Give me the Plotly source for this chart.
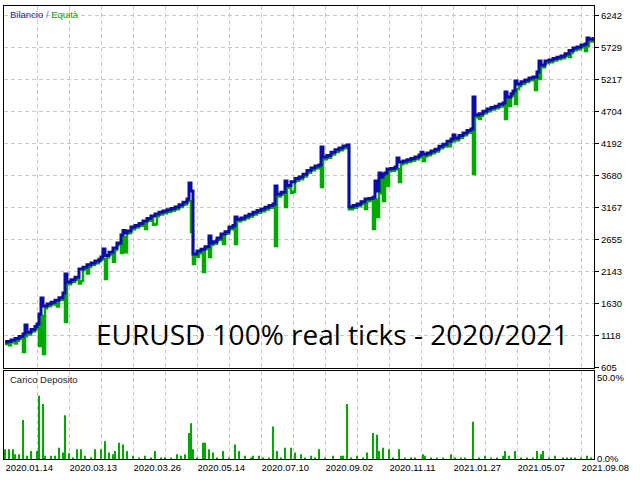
"""MT5 tester report: balance / equity curve with deposit load bars."""

import plotly.graph_objects as go

# balance curve, x = deal number
balance_deals = [
    0, 1, 3, 5, 7, 9, 10, 11, 13, 15, 16, 17, 18, 19, 21, 23, 25, 27, 29, 30,
    31, 33, 35, 37, 39, 41, 43, 45, 47, 48, 49, 50, 52, 54, 56, 58, 59, 60, 61, 63,
    65, 67, 69, 71, 73, 75, 77, 79, 81, 83, 85, 87, 89, 91, 92, 93, 94, 96, 98, 100,
    102, 103, 104, 106, 108, 110, 112, 114, 115, 116, 118, 120, 122, 124, 126, 128, 130, 132, 134, 135,
    136, 138, 140, 141, 143, 145, 147, 149, 151, 153, 155, 157, 158, 159, 161, 163, 165, 167, 169, 171,
    172, 174, 176, 178, 180, 182, 184, 185, 186, 187, 188, 189, 190, 191, 193, 195, 196, 197, 199, 201,
    203, 205, 207, 208, 209, 211, 213, 215, 217, 219, 221, 223, 224, 225, 227, 229, 231, 233, 234, 235,
    237, 239, 241, 243, 245, 247, 249, 250, 251, 253, 254, 255, 256, 258, 260, 262, 264, 266, 267, 268,
    270, 272, 274, 276, 278, 280, 282, 284, 286, 288, 290, 291, 292, 294,
]
balance = [
    1013, 1020, 1045, 1070, 1100, 1141, 1285, 1170, 1215, 1260, 1300, 1462, 1718, 1590, 1620, 1650, 1680, 1720, 1798, 2102,
    1974, 2010, 2050, 2182, 2210, 2250, 2280, 2310, 2340, 2374, 2502, 2400, 2450, 2520, 2600, 2726, 2800, 2760, 2790, 2854,
    2880, 2910, 2950, 2990, 3030, 3063, 3090, 3110, 3130, 3150, 3175, 3210, 3250, 3303, 3559, 3431, 2422, 2470, 2500, 2540,
    2710, 2600, 2620, 2680, 2742, 2780, 2854, 2880, 3015, 2980, 3000, 3031, 3060, 3090, 3120, 3143, 3170, 3200, 3223, 3511,
    3380, 3410, 3591, 3520, 3580, 3630, 3655, 3700, 3760, 3799, 3830, 3847, 4135, 3975, 4000, 4050, 4090, 4120, 4151, 4167,
    3175, 3200, 3223, 3260, 3303, 3310, 3330, 3591, 3431, 3720, 3650, 3703, 3720, 3783, 3790, 3815, 3959, 3895, 3910, 3930,
    3950, 3975, 4007, 4050, 4020, 4040, 4070, 4100, 4150, 4180, 4230, 4263, 4327, 4280, 4320, 4360, 4400, 4423, 4936, 4647,
    4670, 4710, 4744, 4770, 4790, 4820, 4840, 5016, 4936, 4990, 5032, 5192, 5144, 5180, 5210, 5240, 5256, 5336, 5512, 5448,
    5512, 5530, 5555, 5575, 5592, 5630, 5680, 5720, 5736, 5770, 5784, 5880, 5860, 5896,
]

# equity curve (floating drawdowns show as dips)
equity_deals = [
    0, 1, 2, 3, 5, 6, 7, 9, 10, 11, 13, 15, 16, 17, 18, 19, 20, 21, 23, 25,
    26, 27, 29, 30, 31, 33, 35, 37, 38, 39, 41, 42, 43, 45, 47, 48, 49, 50, 51, 52,
    54, 55, 56, 58, 59, 60, 61, 63, 65, 67, 69, 70, 71, 73, 74, 75, 76, 77, 79, 81,
    83, 85, 87, 89, 91, 92, 93, 94, 95, 96, 97, 98, 99, 100, 102, 103, 104, 106, 108, 109,
    110, 112, 114, 115, 116, 118, 120, 122, 124, 126, 128, 130, 132, 134, 135, 136, 138, 140, 141, 143,
    144, 145, 147, 149, 151, 153, 155, 157, 158, 159, 161, 163, 165, 167, 169, 171, 172, 174, 176, 178,
    180, 181, 182, 184, 185, 186, 187, 188, 189, 190, 191, 192, 193, 195, 196, 197, 198, 199, 201, 203,
    205, 207, 208, 209, 210, 211, 213, 215, 217, 219, 221, 222, 223, 224, 225, 227, 229, 231, 233, 234,
    235, 237, 238, 239, 241, 243, 245, 247, 249, 250, 251, 252, 253, 254, 255, 256, 257, 258, 260, 262,
    264, 265, 266, 267, 268, 270, 272, 274, 276, 278, 280, 282, 283, 284, 286, 288, 290, 291, 292, 294,
]
equity = [
    980, 985, 960, 1010, 990, 1035, 1065, 853, 1106, 1135, 1180, 1225, 1265, 949, 1430, 821, 1555, 1585, 1615, 1645,
    1580, 1685, 1763, 1333, 1939, 1975, 2015, 1950, 1990, 2175, 2110, 2215, 2245, 2275, 2305, 2339, 2339, 2022, 2365, 2415,
    2300, 2485, 2565, 2440, 2691, 2450, 2755, 2819, 2845, 2875, 2915, 2823, 2955, 2995, 2890, 2900, 3028, 3055, 3075, 3095,
    3115, 3140, 3175, 3215, 3268, 3268, 2775, 2262, 2387, 2380, 2435, 2465, 2134, 2505, 2374, 2565, 2585, 2645, 2707, 2582,
    2745, 2819, 2845, 2582, 2945, 2965, 2996, 3025, 3055, 3085, 3108, 3135, 3165, 3188, 2550, 3345, 3375, 3175, 3485, 3400,
    3420, 3595, 3620, 3665, 3725, 3764, 3795, 3812, 3495, 3940, 3965, 4015, 4055, 4085, 4116, 4132, 3140, 3165, 3188, 3225,
    3143, 3268, 3275, 2823, 3295, 3015, 3396, 3615, 3271, 3685, 3511, 3748, 3755, 3780, 3780, 3575, 3860, 3875, 3895, 3915,
    3940, 3972, 3972, 3911, 3985, 4005, 4035, 4065, 4115, 4145, 4195, 4150, 4228, 4228, 4245, 4285, 4325, 4365, 4388, 3703,
    4612, 4583, 4635, 4675, 4709, 4735, 4755, 4785, 4805, 4583, 4901, 4791, 4955, 4997, 4823, 5064, 5109, 5145, 5175, 5205,
    5221, 5048, 5301, 5224, 5413, 5477, 5495, 5520, 5540, 5557, 5595, 5576, 5645, 5685, 5701, 5735, 5672, 5749, 5825, 5861,
]

# deposit load, percent
load_deals = [
    0, 2, 4, 5, 7, 9, 11, 13, 16, 17, 19, 20, 23, 25, 27, 29, 30, 32, 34, 36,
    38, 40, 43, 45, 48, 50, 52, 54, 55, 57, 59, 61, 64, 67, 70, 73, 75, 78, 80, 83,
    86, 88, 90, 92, 93, 94, 96, 99, 100, 102, 104, 106, 109, 112, 115, 117, 120, 123, 124, 127,
    129, 132, 134, 136, 138, 140, 143, 145, 148, 150, 153, 155, 157, 160, 164, 168, 169, 171, 173, 176,
    179, 181, 184, 186, 187, 189, 192, 194, 197, 200, 203, 205, 209, 210, 213, 216, 219, 223, 225, 228,
    230, 234, 237, 240, 243, 246, 249, 250, 252, 255, 258, 261, 264, 266, 268, 269, 272, 275, 279, 281,
    283, 285, 288, 291, 293,
]
load_pct = [
    6, 6, 6, 3, 3, 24, 2, 5, 5, 39, 34, 2, 2, 2, 7, 4, 27, 3.5, 1, 6,
    6, 2, 1, 6, 6, 11, 4, 3, 5, 10, 9, 5, 2, 1, 2, 1, 5, 1, 1, 1,
    3, 2, 3, 16, 22, 6, 1, 10, 10, 6, 4, 1, 5, 1, 9, 5, 2, 1, 2, 2,
    1, 1, 20, 5, 1, 7, 7, 4, 3, 1, 2, 1, 6, 1, 2, 2, 2, 34, 1, 2,
    1, 4, 16, 15, 5, 7, 6, 1, 6, 1, 1, 1, 3, 2, 1, 1, 1, 3, 1, 1,
    1, 23, 1, 2, 1, 1, 2, 5, 2, 5, 1, 1, 1, 5, 3, 5, 1, 2, 1, 1,
    1, 1, 1, 2, 1,
]

balance_ticks = [605, 1118, 1630, 2143, 2655, 3167, 3680, 4192, 4704, 5217, 5729, 6242]
date_deals = [0, 32, 64, 96, 128, 160, 192, 224, 256, 288]
date_labels = [
    "2020.01.14", "2020.03.13", "2020.03.26", "2020.05.14", "2020.07.10",
    "2020.09.02", "2020.11.11", "2021.01.27", "2021.05.07", "2021.09.08",
]

BLUE = "#0c0ca6"
GREEN = "#00aa00"
GRID = "#c8c8c8"
FONT = "Liberation Sans"


def main() -> None:
    fig = go.Figure()

    fig.add_trace(go.Scatter(
        x=equity_deals, y=equity, mode="lines",
        line=dict(color=GREEN, width=2.5, shape="hv"),
        xaxis="x", yaxis="y", hoverinfo="skip",
    ))
    fig.add_trace(go.Scatter(
        x=balance_deals, y=balance, mode="lines",
        line=dict(color=BLUE, width=3, shape="hv"),
        xaxis="x", yaxis="y", hoverinfo="skip",
    ))
    fig.add_trace(go.Bar(
        x=load_deals, y=load_pct, width=0.8,
        marker=dict(color=GREEN, line=dict(width=0)),
        xaxis="x2", yaxis="y2", hoverinfo="skip",
    ))

    grid = dict(showgrid=True, gridcolor=GRID, gridwidth=1, griddash="4px,3px")
    frame = dict(showline=True, mirror=True, linecolor="black", linewidth=1,
                 zeroline=False, automargin=False)
    tickfont = dict(family=FONT, size=9.5, color="black")

    fig.update_layout(
        width=640,
        height=480,
        margin=dict(l=4, r=46, t=6, b=21),
        paper_bgcolor="white",
        plot_bgcolor="white",
        showlegend=False,
        xaxis=dict(
            domain=[0, 1], anchor="y", range=[-0.5, 294.5],
            tickmode="linear", tick0=0, dtick=16, showticklabels=False, ticks="",
            **grid, **frame,
        ),
        yaxis=dict(
            domain=[0.2009, 1], anchor="x", range=[597, 6394], side="right",
            tickmode="array", tickvals=balance_ticks, ticktext=[str(v) for v in balance_ticks],
            ticks="outside", ticklen=4, tickcolor="black", tickfont=tickfont,
            **grid, **frame,
        ),
        xaxis2=dict(
            domain=[0, 1], anchor="y2", matches="x",
            tickmode="array", tickvals=date_deals, ticktext=date_labels,
            ticklabelposition="outside right", ticks="", tickfont=tickfont,
            minor=dict(tickmode="linear", tick0=0, dtick=16, showgrid=True,
                       gridcolor=GRID, griddash="4px,3px", gridwidth=1),
            **grid, **frame,
        ),
        yaxis2=dict(
            domain=[0, 0.1943], anchor="x2", range=[0, 54.3], side="right",
            tickmode="array", tickvals=[0, 50], ticktext=["0.0%", "50.0%"],
            ticks="", showgrid=False, tickfont=tickfont, **frame,
        ),
        annotations=[
            dict(
                text=('<span style="color:#1a1aa0">Bilancio</span>'
                      '<span style="color:#6a6a9a"> / </span>'
                      '<span style="color:#10a010">Equità</span>'),
                xref="paper", yref="paper", x=0.006, y=0.981,
                xanchor="left", yanchor="middle", showarrow=False,
                font=dict(family=FONT, size=9.5),
            ),
            dict(
                text="Carico Deposito", xref="paper", yref="paper", x=0.006, y=0.1744,
                xanchor="left", yanchor="middle", showarrow=False,
                font=dict(family=FONT, size=9.5, color="#222222"),
            ),
            dict(
                text="EURUSD 100% real ticks - 2020/2021", xref="paper", yref="paper",
                x=0.556, y=0.276, xanchor="center", yanchor="middle", showarrow=False,
                font=dict(family="Open Sans", size=28, color="black"),
            ),
        ],
    )

    # drop the browser's default 8px page margin so the figure sits at the corner
    fig.write_html(
        "out.html",
        config={"displayModeBar": False},
        post_script="document.body.style.margin = '0';",
    )


if __name__ == "__main__":
    main()
